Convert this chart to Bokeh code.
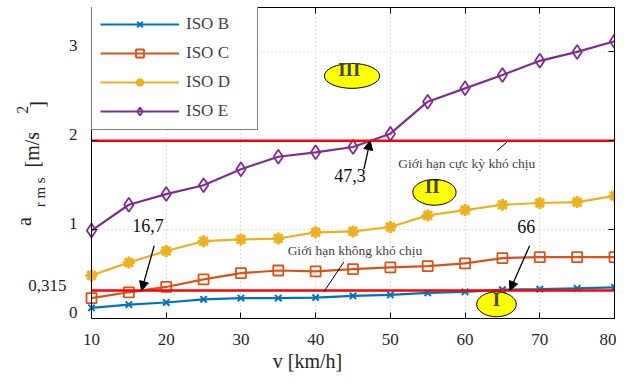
import math
from bokeh.plotting import figure
from bokeh.models import (Range1d, FixedTicker, LinearAxis, Legend, LegendItem,
                          Label, Arrow, NormalHead)
from bokeh.embed import file_html
from bokeh.resources import INLINE

# ---- data ----
speed = [10, 15, 20, 25, 30, 35, 40, 45, 50, 55, 60, 65, 70, 75, 80]
iso_b = [0.12, 0.157, 0.18, 0.216, 0.23, 0.23, 0.235, 0.254, 0.265, 0.288, 0.30, 0.325, 0.33, 0.34, 0.35]
iso_c = [0.23, 0.295, 0.355, 0.44, 0.51, 0.54, 0.53, 0.556, 0.575, 0.59, 0.62, 0.68, 0.69, 0.69, 0.69]
iso_d = [0.485, 0.63, 0.76, 0.87, 0.89, 0.90, 0.97, 0.98, 1.03, 1.16, 1.22, 1.28, 1.30, 1.31, 1.38]
iso_e = [0.99, 1.28, 1.40, 1.50, 1.68, 1.82, 1.87, 1.93, 2.08, 2.44, 2.59, 2.74, 2.90, 3.00, 3.12]
series_names = ["ISO B", "ISO C", "ISO D", "ISO E"]
x_ticks = [10, 20, 30, 40, 50, 60, 70, 80]
y_ticks = [0, 1, 2, 3]
y_tick_labels = ["0", "1", "2", "3"]
y_max = 3.5
limit_low = 0.315      # Giới hạn không khó chịu
limit_high = 2.0       # Giới hạn cực kỳ khó chịu
limit_low_label = "0,315"
cross_speeds = [16.7, 47.3, 66]
cross_labels = ["16,7", "47,3", "66"]
zone_labels = ["III", "II", "I"]

FONT = "Liberation Serif"
TXT = "#262626"
colors = ["#0072BD", "#D95319", "#EDB120", "#7E2F8E"]

W, H = 616, 379
TOP, BOTTOM = 7, 61
left_px, right_px = 91, 614          # pixel of x=10 and x=80 inside the frame
x0, x1 = speed[0], speed[-1]
ppu = (right_px - left_px) / (x1 - x0)
ppu_y = (H - TOP - BOTTOM) / y_max
x_min = x0 - left_px / ppu           # room inside the frame for y-axis texts

p = figure(width=W, height=H, x_range=Range1d(x_min, x1), y_range=Range1d(0, y_max),
           output_backend="svg", toolbar_location=None,
           min_border_left=0, min_border_right=W - right_px, min_border_top=TOP, min_border_bottom=BOTTOM)
p.background_fill_color = "white"
p.border_fill_color = "white"
p.outline_line_color = None
p.ygrid.visible = False

# bottom axis
xa = p.xaxis[0]
xa.ticker = FixedTicker(ticks=x_ticks)
xa.bounds = (x0, x1)
xa.major_tick_in = 6
xa.major_tick_out = 0
xa.minor_tick_line_color = None
xa.axis_line_color = "black"
xa.major_label_text_font = FONT
xa.major_label_text_font_size = "17px"
xa.major_label_text_color = TXT
xa.major_label_standoff = 15
xa.axis_label = "v [km/h]"
xa.axis_label_text_font = FONT
xa.axis_label_text_font_size = "20px"
xa.axis_label_text_font_style = "normal"
xa.axis_label_text_color = TXT
xa.axis_label_standoff = 2

# left axis placed at x = 10 inside the frame (labels drawn as texts below)
ya = p.yaxis[0]
ya.fixed_location = x0
ya.ticker = FixedTicker(ticks=y_ticks)
ya.major_tick_in = 6
ya.major_tick_out = 0
ya.minor_tick_line_color = None
ya.axis_line_color = "black"
ya.major_label_text_color = None
ya.major_label_text_font_size = "0px"

top_ax = LinearAxis(ticker=FixedTicker(ticks=x_ticks), bounds=(x0, x1), major_tick_in=6, major_tick_out=0,
                    minor_tick_line_color=None, major_label_text_font_size="0px",
                    major_label_text_color=None, major_label_standoff=0, axis_line_color="black")
right_ax = LinearAxis(ticker=FixedTicker(ticks=y_ticks), major_tick_in=6, major_tick_out=0,
                      minor_tick_line_color=None, major_label_text_font_size="0px",
                      major_label_text_color=None, major_label_standoff=0, axis_line_color="black")
p.add_layout(top_ax, "above")
p.add_layout(right_ax, "right")

# y tick labels (sitting slightly above their ticks, as in the original)
for t, lab in zip(y_ticks, y_tick_labels):
    p.add_layout(Label(x=x0 - 14 / ppu, y=t + 6 / ppu_y, text=lab, text_font=FONT, text_font_size="17px",
                       text_align="right", text_baseline="middle", text_color=TXT))

# dotted grid
p.xgrid.ticker = FixedTicker(ticks=x_ticks[1:-1])
p.xgrid.grid_line_color = "#c0c0c0"
p.xgrid.grid_line_dash = "1 3"
p.segment(x0=[x0] * 3, x1=[x1] * 3, y0=y_ticks[1:], y1=y_ticks[1:],
          line_color="#c0c0c0", line_dash="1 3", line_width=1)

# series
markers = [dict(marker="x", size=9, line_width=2),
           dict(marker="square", size=10, line_width=1.8, fill_color=None),
           dict(marker="asterisk", size=12, line_width=3),
           dict(marker="diamond", size=14, line_width=1.8, fill_color=None)]
items = []
for name, vals, col, mk in zip(series_names, [iso_b, iso_c, iso_d, iso_e], colors, markers):
    ln = p.line(speed, vals, line_color=col, line_width=2.2)
    kw = dict(mk)
    fc = kw.pop("fill_color", col)
    sc = p.scatter(speed, vals, line_color=col, fill_color=fc, **kw)
    items.append(LegendItem(label=name, renderers=[ln, sc]))

# limit lines
p.segment(x0=[x0, x0], x1=[x1, x1], y0=[limit_low, limit_high], y1=[limit_low, limit_high],
          line_color="#FF0000", line_width=2.5)

frame_h = H - TOP - BOTTOM
legend_h = 2 * 8 + 4 * 20 + 3 * 9
legend = Legend(items=items, location=(left_px, frame_h - legend_h), margin=0, padding=8, glyph_width=79,
                glyph_height=20, label_height=20, label_standoff=7, label_width=63, spacing=9,
                border_line_color="black", border_line_width=1, background_fill_alpha=1,
                label_text_font=FONT, label_text_font_size="17px")
p.add_layout(legend, "center")

# zone ellipses
zones = [(44.87, 2.73, 7.4, 0.28, 44.5, 2.80),
         (55.9, 1.42, 5.8, 0.29, 55.6, 1.48),
         (64.2, 0.16, 5.3, 0.28, 64.2, 0.21)]
for txt, (cx, cy, w, h, tx, ty) in zip(zone_labels, zones):
    p.ellipse(x=cx, y=cy, width=w, height=h, fill_color="#FFFF00", line_color="black", line_width=1)
    p.add_layout(Label(x=tx, y=ty, text=txt, text_font=FONT, text_font_size="19px",
                       text_font_style="bold", text_align="center", text_baseline="middle"))

# crossing arrows
arrow_starts = [(18.4, 0.82), (46.46, 1.68), (68.64, 0.82)]
arrow_ends_y = [limit_low, limit_high, limit_low]
text_pos = [(17.56, 1.05), (44.6, 1.61), (68.2, 1.03)]
for (sx, sy), ex, ey, (tx, ty), lab in zip(arrow_starts, cross_speeds, arrow_ends_y, text_pos, cross_labels):
    p.add_layout(Arrow(x_start=sx, y_start=sy, x_end=ex, y_end=ey, line_width=1.3, line_color="black",
                       end=NormalHead(size=9, fill_color="black", line_color="black")))
    p.add_layout(Label(x=tx, y=ty, text=lab, text_font=FONT, text_font_size="18px",
                       text_align="center", text_baseline="middle", text_color="#111111"))

# limit captions with leader lines
p.segment(x0=[64.3, 43.77], y0=[1.89, 0.635], x1=[65.6, 41.1], y1=[1.985, 0.30],
          line_color="black", line_width=1)
p.add_layout(Label(x=51.06, y=1.75, text="Giới hạn cực kỳ khó chịu", text_font=FONT,
                   text_font_size="13.5px", text_baseline="middle", text_align="left"))
p.add_layout(Label(x=36.25, y=0.77, text="Giới hạn không khó chịu", text_font=FONT,
                   text_font_size="13.5px", text_baseline="middle", text_align="left"))

# "0,315" value label on the y axis side
p.add_layout(Label(x=6.65, y=0.37, text=limit_low_label, text_font=FONT,
                   text_font_size="17px", text_align="right", text_baseline="middle", text_color=TXT))

# y-axis label pieces (a_rms [m/s^2])
ylab = [("a", 0.985, 1.09, "20px"), ("r m s", 3.11, 1.42, "15px"), ("[m/s", 2.05, 1.90, "20px"),
        ("2", 0.72, 2.35, "16px"), ("]", 2.71, 2.41, "20px")]
for t, x, y, fs in ylab:
    p.add_layout(Label(x=x, y=y, text=t, text_font=FONT, text_font_size=fs, angle=math.pi / 2,
                       text_align="center", text_baseline="middle", text_color=TXT))

open("out.html", "w").write(file_html(p, INLINE))
